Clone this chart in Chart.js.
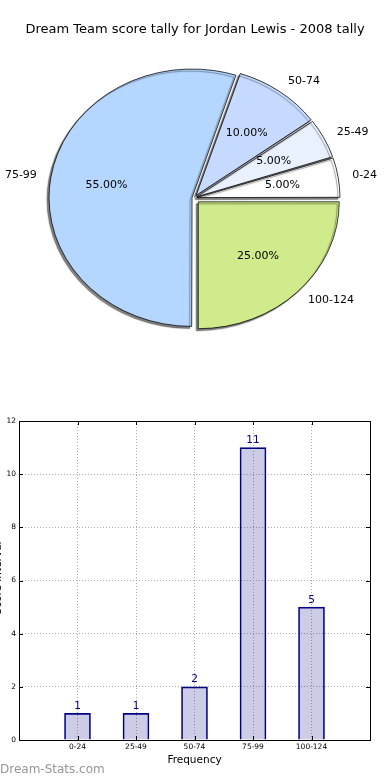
<!DOCTYPE html>
<html>
<head>
<meta charset="utf-8">
<script src="https://cdn.jsdelivr.net/npm/chart.js@4/dist/chart.umd.min.js"></script>
<style>
  body { margin: 0; background: #fff; font-family: "DejaVu Sans", sans-serif; }
  #page { position: relative; width: 390px; height: 780px; overflow: hidden; }
  #title { position: absolute; top: 21px; left: 0; width: 390px; text-align: center; font-size: 13px; color: #000; }
  #pieCanvas { position: absolute; left: 0; top: 0; }
  #barCanvas { position: absolute; left: 0; top: 400px; }
  #mark { position: absolute; left: 0; top: 762px; font-size: 12px; color: #959595; }
</style>
</head>
<body>
<div id="page">
  <canvas id="pieCanvas" width="390" height="400"></canvas>
  <div id="title">Dream Team score tally for Jordan Lewis - 2008 tally</div>
  <canvas id="barCanvas" width="390" height="380"></canvas>
  <div id="mark">Dream-Stats.com</div>
</div>
<script>
const intervals = ['0-24', '25-49', '50-74', '75-99', '100-124'];
const counts = [1, 1, 2, 11, 5];
const sliceColors = ['#ffffff', '#e9f1ff', '#c6daff', '#b5d6ff', '#d0eb8b'];
const explodePx = [5, 5, 5, 4, 6];
const yTicks = [0, 2, 4, 6, 8, 10, 12];

const FONT = '"DejaVu Sans", sans-serif';
const squash = 0.9;

document.addEventListener('DOMContentLoaded', function() {
    const total = counts.reduce((a, b) => a + b, 0);

    // matplotlib goes counter-clockwise from east, Chart.js clockwise -> reverse
    const order = intervals.map((_, i) => i).reverse();

    // Chart.js moves an arc by offset/4 * (1 + fix), turn wanted pixels into that
    function arcOffset(px, value) {
        const circ = Math.min(Math.PI, value / total * Math.PI * 2);
        const fix = 1 - Math.sin(circ);
        return px * 4 / (1 + fix);
    }

    const ellipsePlugin = {
        id: 'ellipse',
        beforeDatasetsDraw(chart) {
            const ctx = chart.ctx;
            const a = chart.chartArea;
            const cx = (a.left + a.right) / 2, cy = (a.top + a.bottom) / 2;
            ctx.save();
            ctx.translate(cx, cy);
            ctx.scale(1, squash);
            ctx.translate(-cx, -cy);
            ctx.shadowColor = 'rgba(0,0,0,0.5)';
            ctx.shadowOffsetX = -2;
            ctx.shadowOffsetY = 2;
            ctx.shadowBlur = 1;
        },
        afterDatasetsDraw(chart) {
            const ctx = chart.ctx;
            ctx.restore();
            const arcs = chart.getDatasetMeta(0).data;
            ctx.save();
            ctx.fillStyle = '#000';
            ctx.textBaseline = 'middle';
            arcs.forEach((arc, j) => {
                const i = order[j];
                const mid = (arc.startAngle + arc.endAngle) / 2;
                const c = Math.cos(mid), s = Math.sin(mid);
                const ox = arc.x + c * explodePx[i];
                const oy = arc.y + s * explodePx[i] * squash;
                const r = arc.outerRadius;
                ctx.font = '11px ' + FONT;
                ctx.textAlign = c > 0 ? 'left' : 'right';
                ctx.fillText(intervals[i], ox + c * r * 1.1, oy + s * r * 1.1 * squash);
                ctx.textAlign = 'center';
                const pct = (counts[i] / total * 100).toFixed(2) + '%';
                ctx.fillText(pct, ox + c * r * 0.6, oy + s * r * 0.6 * squash);
            });
            ctx.restore();
        }
    };

    new Chart(document.getElementById('pieCanvas'), {
        type: 'pie',
        data: {
            labels: order.map(i => intervals[i]),
            datasets: [{
                data: order.map(i => counts[i]),
                backgroundColor: order.map(i => sliceColors[i]),
                borderColor: '#000',
                borderWidth: 0.8,
                offset: order.map(i => arcOffset(explodePx[i], counts[i]))
            }]
        },
        options: {
            responsive: false,
            animation: false,
            rotation: 90,
            radius: 141,
            layout: { padding: { left: 0, right: 2, top: 0, bottom: 4 } },
            plugins: { legend: { display: false }, tooltip: { enabled: false } }
        },
        plugins: [ellipsePlugin]
    });

    const framePlugin = {
        id: 'frame',
        afterDatasetsDraw(chart) {
            const ctx = chart.ctx;
            const a = chart.chartArea;
            const ys = chart.scales.y, xs = chart.scales.x;
            ctx.save();
            // bar value labels
            ctx.fillStyle = '#000080';
            ctx.font = '10.5px ' + FONT;
            ctx.textAlign = 'center';
            ctx.textBaseline = 'bottom';
            chart.getDatasetMeta(0).data.forEach((bar, i) => {
                ctx.fillText(String(counts[i]), bar.x, bar.y - 2);
            });
            // box and inward ticks
            ctx.strokeStyle = '#000';
            ctx.lineWidth = 1;
            ctx.strokeRect(Math.round(a.left) + 0.5, Math.round(a.top) + 0.5,
                Math.round(a.right - a.left), Math.round(a.bottom - a.top));
            ctx.beginPath();
            yTicks.forEach(v => {
                const y = Math.round(ys.getPixelForValue(v)) + 0.5;
                ctx.moveTo(a.left, y); ctx.lineTo(a.left + 4, y);
                ctx.moveTo(a.right, y); ctx.lineTo(a.right - 4, y);
            });
            intervals.forEach((_, i) => {
                const x = Math.round(xs.getPixelForValue(i + 1)) + 0.5;
                ctx.moveTo(x, a.bottom); ctx.lineTo(x, a.bottom - 4);
                ctx.moveTo(x, a.top); ctx.lineTo(x, a.top + 4);
            });
            ctx.stroke();
            // axis titles
            ctx.fillStyle = '#000';
            ctx.font = '10.5px ' + FONT;
            ctx.textAlign = 'center';
            ctx.textBaseline = 'middle';
            ctx.fillText('Frequency', (a.left + a.right) / 2, 360);
            ctx.translate(1, 178);
            ctx.rotate(-Math.PI / 2);
            ctx.textBaseline = 'alphabetic';
            ctx.fillText('Score Interval', 0, 0);
            ctx.restore();
        }
    };

    new Chart(document.getElementById('barCanvas'), {
        type: 'bar',
        data: {
            datasets: [{
                data: counts.map((v, i) => ({ x: i + 1, y: v })),
                backgroundColor: 'rgba(0,0,128,0.2)',
                borderColor: '#000080',
                borderWidth: 1,
                barThickness: 26
            }]
        },
        options: {
            responsive: false,
            animation: false,
            layout: { padding: { left: 0, right: 20, top: 21, bottom: 0 } },
            plugins: { legend: { display: false }, tooltip: { enabled: false } },
            scales: {
                x: {
                    type: 'linear',
                    offset: false,
                    min: 0,
                    max: intervals.length + 1,
                    afterBuildTicks(scale) {
                        scale.ticks = intervals.map((_, i) => ({ value: i + 1 }));
                    },
                    afterFit(scale) { scale.height = 40; },
                    ticks: {
                        color: '#000',
                        font: { family: FONT, size: 7.5 },
                        padding: 3,
                        maxRotation: 0,
                        callback: v => intervals[v - 1]
                    },
                    grid: { color: '#aaa', drawTicks: false, offset: false },
                    border: { display: false, dash: [1, 2] }
                },
                y: {
                    min: 0,
                    max: 12,
                    afterBuildTicks(scale) {
                        scale.ticks = yTicks.map(v => ({ value: v }));
                    },
                    afterFit(scale) { scale.width = 19; },
                    ticks: {
                        color: '#000',
                        font: { family: FONT, size: 7.5 },
                        padding: 3
                    },
                    grid: { color: '#aaa', drawTicks: false },
                    border: { display: false, dash: [1, 2] }
                }
            }
        },
        plugins: [framePlugin]
    });
});
</script>
</body>
</html>
